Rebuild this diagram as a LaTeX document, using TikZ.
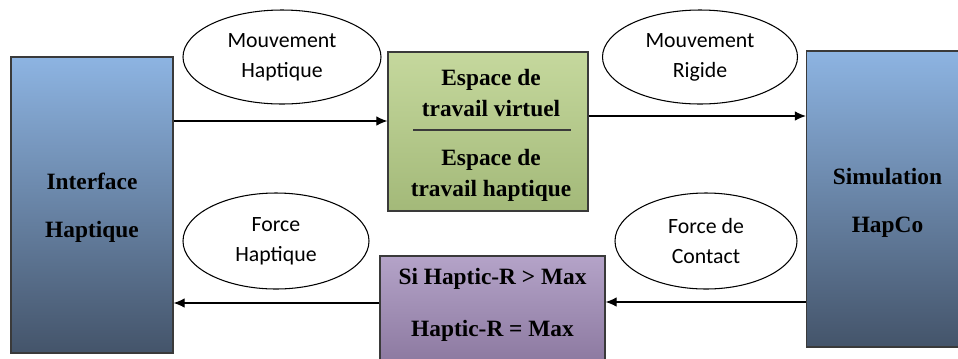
\documentclass[tikz,border=0pt]{standalone}
\usepackage{fontspec}
\setmainfont{Liberation Serif}
\newfontfamily\boxfont{Liberation Serif}
\newfontfamily\ellfont{Carlito}
\usetikzlibrary{positioning, shapes.geometric, arrows.meta, calc}
\definecolor{bluetop}{HTML}{8DB4E2}
\definecolor{bluebot}{HTML}{44546A}
\definecolor{greentop}{HTML}{C5D89D}
\definecolor{greenbot}{HTML}{A3B979}
\definecolor{purpletop}{HTML}{B4A3C8}
\definecolor{purplebot}{HTML}{8B789F}
\definecolor{edgegray}{HTML}{3A3A3A}
\tikzset{
	blocknode/.style={
			shape=rectangle,
			draw=edgegray,
			line width=0.7pt,
			inner sep=0pt
		},
	devicenode/.style={
			blocknode,
			top color=bluetop,
			bottom color=bluebot,
			minimum width=32.4mm,
			minimum height=59.2mm
		},
	spacenode/.style={
			blocknode,
			top color=greentop,
			bottom color=greenbot,
			minimum width=40mm,
			minimum height=31.8mm
		},
	limitnode/.style={
			blocknode,
			top color=purpletop,
			bottom color=purplebot,
			minimum width=45mm,
			minimum height=22mm
		},
	flownode/.style={
			ellipse,
			draw=black,
			line width=0.6pt,
			fill=white,
			inner sep=0pt,
			align=center,
			font=\ellfont\fontsize{12.4}{17}\selectfont
		}
}
\tikzset{
	boldtext/.style={align=center, font=\boxfont\bfseries\fontsize{13.3}{17.6}\selectfont}
}
\tikzset{
	flow/.style={-{Latex[length=2.2mm,width=1.9mm]}, line width=0.6pt}
}

\begin{document}
\begin{tikzpicture}[x=0.2mm, y=-0.2mm]

              \clip (0,0) rectangle (958,358);

              \node[devicenode] (iface) at (92,205) {};
              \node[devicenode] (simu) at (887.5,199) {};
              \node[spacenode] (espace) at (488,131.5) {};
              \node[limitnode] (seuil) at (492.5,311) {};

              \node[boldtext] (ifacetext) at (92,208)
                   {Interface\\[9.6pt]Haptique};
              \node[boldtext] (simutext) at (887.5,203)
                   {Simulation\\[9.6pt]HapCo};
              \node[boldtext] (virtuel) at (491,93)
                   {Espace de\\travail virtuel};
              \node[boldtext] (haptique) at (491,175)
                   {Espace de\\travail haptique};
              \node[boldtext] (seuiltext) at (492.5,305)
                   {Si Haptic-R > Max\\[12pt]Haptic-R = Max};
              \draw[line width=0.7pt, edgegray] (413,130) -- (571,130);

              \node[flownode, minimum width=39.6mm, minimum height=18.8mm] (mvthap) at (282,57)
                   {Mouvement\\Haptique};
              \node[flownode, minimum width=39mm, minimum height=18.8mm] (mvtrig) at (700,57)
                   {Mouvement\\Rigide};
              \node[flownode, minimum width=37.2mm, minimum height=19.2mm] (forcehap) at (276,241)
                   {Force\\Haptique};
              \node[flownode, minimum width=36.4mm, minimum height=19.2mm] (forcecon) at (706,241)
                   {Force de\\Contact};

              \draw[flow] (iface.east |- 0,121) -- (espace.west |- 0,121);
              \draw[flow] (espace.east |- 0,116) -- (simu.west |- 0,116);
              \draw[flow] (simu.west |- 0,302) -- (seuil.east |- 0,302);
              \draw[flow] (seuil.west |- 0,303) -- (iface.east |- 0,303);

            \end{tikzpicture}
\end{document}
